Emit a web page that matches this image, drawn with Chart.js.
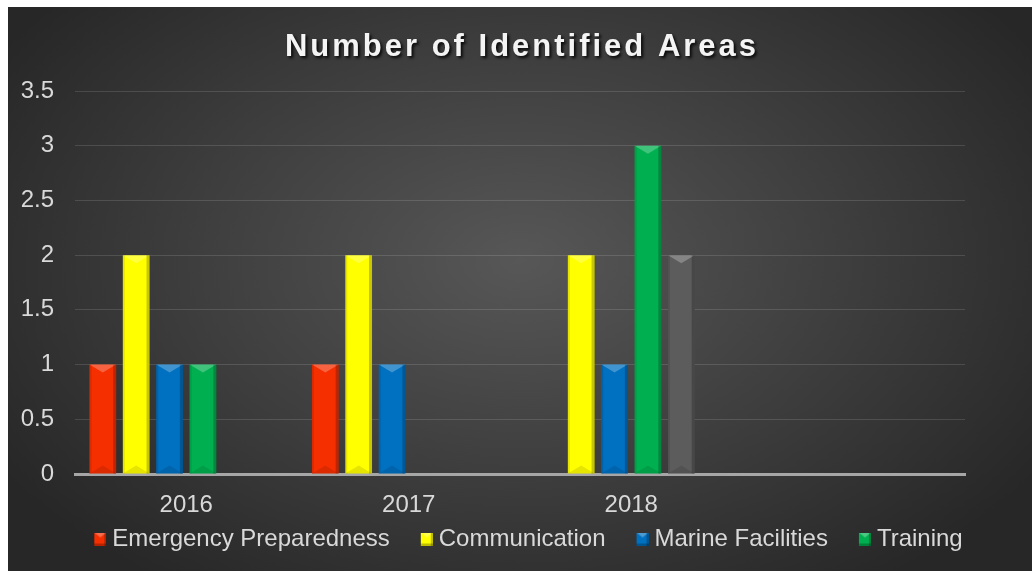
<!DOCTYPE html>
<html>
<head>
<meta charset="utf-8">
<script src="https://cdn.jsdelivr.net/npm/chart.js@4.4.1/dist/chart.umd.min.js"></script>
<style>
html, body { margin: 0; padding: 0; background: #fff; }
#contenedor {
  position: absolute; left: 8px; top: 7px; width: 1024px; height: 564px;
  background: radial-gradient(ellipse 60% 70% at 50% 45%, #575757 0%, #3d3d3d 55%, #272727 100%);
}
</style>
</head>
<body>
<div id="contenedor"><canvas id="grafico"></canvas></div>
<script>
// Datos del grafico
const titulo = "Number of Identified Areas";
const categorias = ["2016", "2017", "2018", ""];
const series = ["Emergency Preparedness", "Communication", "Marine Facilities", "Training", "Series5", "Series6"];
const emergencia = [1, 1, null, null];
const comunicacion = [2, 2, 2, null];
const marina = [1, 1, 1, null];
const entrenamiento = [1, null, 3, null];
const serie5 = [null, null, 2, null];
const serie6 = [null, null, null, null];
const marcasY = [0, 0.5, 1, 1.5, 2, 2.5, 3, 3.5];

const colores = ["#f52f00", "#ffff00", "#0070c0", "#00b050", "#5c5c5c", "#a5a5a5"];
const valores = [emergencia, comunicacion, marina, entrenamiento, serie5, serie6];

Chart.defaults.font.family = "'Liberation Sans', Arial, sans-serif";

// Marcadores de la leyenda (cuadrito con bisel, a la derecha del lienzo)
const anchoCaja = 23;
function crearMarcador(color) {
  const c = document.createElement("canvas");
  c.width = anchoCaja + 12;
  c.height = 13;
  const g = c.getContext("2d");
  const x0 = c.width - 12;
  g.fillStyle = color;
  g.fillRect(x0, 0, 12, 13);
  g.fillStyle = "rgba(255,255,255,0.3)";
  g.beginPath(); g.moveTo(x0, 0); g.lineTo(x0 + 12, 0); g.lineTo(x0 + 6, 5); g.closePath(); g.fill();
  g.fillStyle = "rgba(0,0,0,0.25)";
  g.fillRect(x0 + 10, 0, 2, 13);
  g.fillRect(x0, 11, 12, 2);
  return c;
}
const marcadores = colores.map(crearMarcador);

// Efecto de bisel sobre cada barra
const biselBarras = {
  id: "biselBarras",
  afterDatasetsDraw(chart) {
    const ctx = chart.ctx;
    chart.data.datasets.forEach((ds, i) => {
      const meta = chart.getDatasetMeta(i);
      meta.data.forEach((barra, j) => {
        if (ds.data[j] == null) return;
        const p = barra.getProps(["x", "y", "base", "width"], true);
        const izq = p.x - p.width / 2;
        const der = p.x + p.width / 2;
        const alto = p.base - p.y;
        const punta = Math.min(p.width * 0.3, alto / 2);
        ctx.save();
        ctx.fillStyle = "rgba(255,255,255,0.25)";
        ctx.beginPath();
        ctx.moveTo(izq, p.y);
        ctx.lineTo(der, p.y);
        ctx.lineTo(p.x, p.y + punta);
        ctx.closePath();
        ctx.fill();
        ctx.fillStyle = "rgba(0,0,0,0.22)";
        ctx.fillRect(der - 3, p.y, 3, alto);
        ctx.fillStyle = "rgba(0,0,0,0.10)";
        ctx.fillRect(izq, p.y, 2, alto);
        ctx.beginPath();
        ctx.moveTo(izq, p.base);
        ctx.lineTo(der, p.base);
        ctx.lineTo(p.x, p.base - punta);
        ctx.closePath();
        ctx.fill();
        ctx.restore();
      });
    });
  }
};

// Titulo con espaciado y sombra
const tituloPlugin = {
  id: "tituloPlugin",
  afterDraw(chart) {
    const ctx = chart.ctx;
    ctx.save();
    ctx.font = "bold 31px 'Liberation Sans', Arial, sans-serif";
    ctx.letterSpacing = "3px";
    ctx.fillStyle = "#f4f4f4";
    ctx.textAlign = "center";
    ctx.textBaseline = "middle";
    ctx.shadowColor = "rgba(0,0,0,0.85)";
    ctx.shadowOffsetX = 2;
    ctx.shadowOffsetY = 2;
    ctx.shadowBlur = 3;
    ctx.fillText(titulo, chart.width / 2 + 2, 40);
    ctx.restore();
  }
};

const conjuntos = series.map((nombre, i) => ({
  label: nombre,
  data: valores[i],
  backgroundColor: colores[i],
  borderWidth: 0,
  categoryPercentage: 0.9,
  barPercentage: 0.8
}));

new Chart(document.getElementById("grafico"), {
  type: "bar",
  data: { labels: categorias, datasets: conjuntos },
  plugins: [biselBarras, tituloPlugin],
  options: {
    responsive: true,
    maintainAspectRatio: false,
    animation: false,
    layout: { padding: { top: 84, right: 0, left: 0, bottom: 10 } },
    plugins: {
      title: { display: false },
      tooltip: { enabled: false },
      legend: {
        position: "bottom",
        labels: {
          color: "#d9d9d9",
          font: { size: 24 },
          usePointStyle: true,
          pointStyleWidth: anchoCaja,
          padding: 14,
          filter: (item) => item.datasetIndex < 4,
          generateLabels: (chart) => {
            const items = Chart.defaults.plugins.legend.labels.generateLabels(chart);
            items.forEach((it) => { it.pointStyle = marcadores[it.datasetIndex]; });
            return items;
          }
        }
      }
    },
    scales: {
      x: {
        grid: { display: false },
        border: { display: true, color: "#a6a6a6", width: 3 },
        ticks: { color: "#d9d9d9", font: { size: 24 }, padding: 9 },
        afterFit: (s) => { s.height = 39; }
      },
      y: {
        min: 0,
        max: 3.5,
        afterBuildTicks: (s) => { s.ticks = marcasY.map(v => ({ value: v })); },
        grid: { color: "rgba(255,255,255,0.13)", drawTicks: false },
        border: { display: false },
        ticks: {
          color: "#d9d9d9",
          font: { size: 24 },
          padding: 21,
          callback: (v) => String(v)
        },
        afterFit: (s) => { s.width = 67; }
      },
      // eje vacio a la derecha, solo deja el margen
      derecha: {
        type: "linear",
        position: "right",
        display: true,
        grid: { display: false },
        border: { display: false },
        ticks: { display: false },
        afterFit: (s) => { s.width = 67; }
      }
    }
  }
});
</script>
</body>
</html>
